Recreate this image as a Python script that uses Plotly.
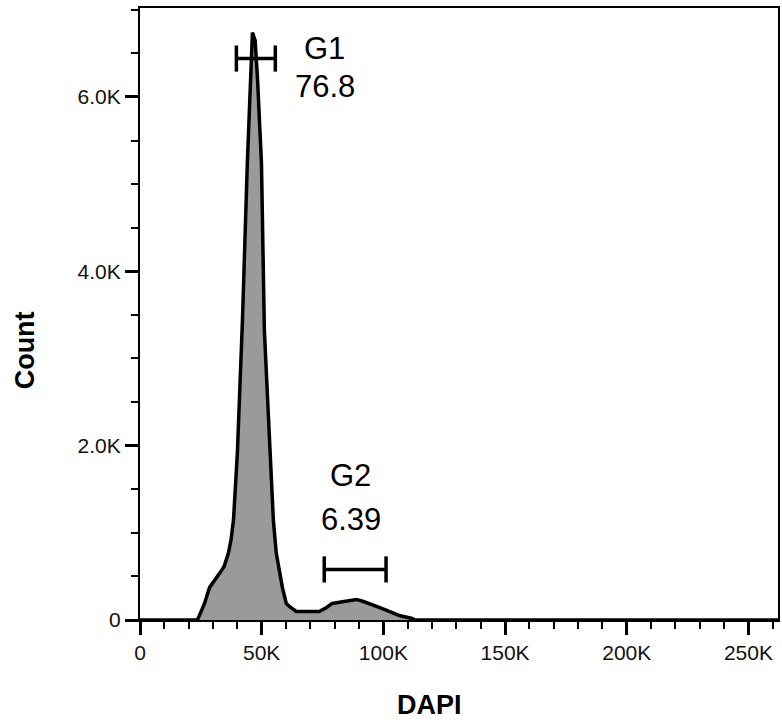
import plotly.graph_objects as go

# ---- data ----
dapi = [0, 23100, 23600, 25000, 26500, 28600, 30800, 32700, 34500, 36300, 37400,
        38400, 40000, 42100, 44100, 45300, 46200, 47300, 48300, 49900, 51100,
        52400, 53600, 54800, 56000, 57300, 58500, 60100, 61400, 64200, 69000,
        73600, 76500, 79000, 83900, 88900, 91500, 94200, 98300, 102400, 106500,
        111800, 113000, 262144]
count = [0, 0, 0, 90, 190, 374, 470, 535, 610, 764, 920,
         1143, 1913, 3441, 5245, 6100, 6739, 6650, 6200, 5245, 3326,
         2550, 1913, 1143, 764, 535, 374, 190, 155, 98, 95,
         98, 140, 190, 213, 236, 215, 190, 144, 98, 52,
         17, 0, 0]

gate_names = ["G1", "G2"]
gate_pct = ["76.8", "6.39"]
gate_lo = [39600, 75700]
gate_hi = [55600, 101100]
gate_level = [6440, 580]
gate_cap = [150, 150]
label_x = [75900, 86600]
name_y = [6555, 1660]
pct_y = [6124, 1155]

x_tickvals = [0, 50000, 100000, 150000, 200000, 250000]
x_ticktext = ["0", "50K", "100K", "150K", "200K", "250K"]
y_tickvals = [0, 2000, 4000, 6000]
y_ticktext = ["0", "2.0K", "4.0K", "6.0K"]

FONT = "Liberation Sans, Arial, sans-serif"

fig = go.Figure()
fig.add_trace(go.Scatter(
    x=dapi, y=count, mode="lines", fill="tozeroy",
    fillcolor="#9a9a9a", line=dict(color="black", width=3.5),
    hoverinfo="skip", showlegend=False))

for lo, hi, lev, cap in zip(gate_lo, gate_hi, gate_level, gate_cap):
    gx = [lo, hi, None, lo, lo, None, hi, hi]
    gy = [lev, lev, None, lev - cap, lev + cap, None, lev - cap, lev + cap]
    fig.add_trace(go.Scatter(x=gx, y=gy, mode="lines",
                             line=dict(color="black", width=3.5),
                             hoverinfo="skip", showlegend=False))

annotations = []
for n, p, lx, ny, py in zip(gate_names, gate_pct, label_x, name_y, pct_y):
    annotations.append(dict(x=lx, y=ny, text=n, showarrow=False, xref="x", yref="y",
                            xanchor="center", yanchor="middle",
                            font=dict(family=FONT, size=31, color="black")))
    annotations.append(dict(x=lx, y=py, text=p, showarrow=False, xref="x", yref="y",
                            xanchor="center", yanchor="middle",
                            font=dict(family=FONT, size=31, color="black")))

W, H = 782, 722
L, R, T, B = 140, 2, 8, 102


def px_to_paper(px, py):
    return (px - L) / (W - L - R), (H - B - py) / (H - T - B)


dx, dy = px_to_paper(430, 705)
annotations.append(dict(x=dx, y=dy, xref="paper", yref="paper", text="<b>DAPI</b>",
                        xanchor="center", yanchor="middle",
                        showarrow=False, font=dict(family=FONT, size=27, color="black")))
cx, cy = px_to_paper(25, 350)
annotations.append(dict(x=cx, y=cy, xref="paper", yref="paper", text="<b>Count</b>",
                        xanchor="center", yanchor="middle",
                        showarrow=False, textangle=-90,
                        font=dict(family=FONT, size=27, color="black")))

fig.update_layout(
    width=W, height=H,
    margin=dict(l=L, r=R, t=T, b=B),
    paper_bgcolor="white", plot_bgcolor="white",
    font=dict(family=FONT, size=21, color="#111111"),
    annotations=annotations,
    xaxis=dict(range=[0, 262144], tickvals=x_tickvals, ticktext=x_ticktext,
               showgrid=False, zeroline=False, showline=True, linecolor="black",
               linewidth=2, mirror=True, ticks="outside", ticklen=13, tickwidth=3,
               tickcolor="black",
               minor=dict(dtick=10000, tick0=0, ticks="outside", ticklen=7,
                          tickwidth=2, tickcolor="black", showgrid=False),
               tickfont=dict(size=21)),
    yaxis=dict(range=[0, 7020], tickvals=y_tickvals, ticktext=y_ticktext,
               showgrid=False, zeroline=False, showline=True, linecolor="black",
               linewidth=2, mirror=True, ticks="outside", ticklen=13, tickwidth=3,
               tickcolor="black",
               minor=dict(dtick=500, tick0=0, ticks="outside", ticklen=7,
                          tickwidth=2, tickcolor="black", showgrid=False),
               tickfont=dict(size=21)),
)

fig.write_html("out.html", config={"displayModeBar": False},
               post_script="document.body.style.margin='0';")
